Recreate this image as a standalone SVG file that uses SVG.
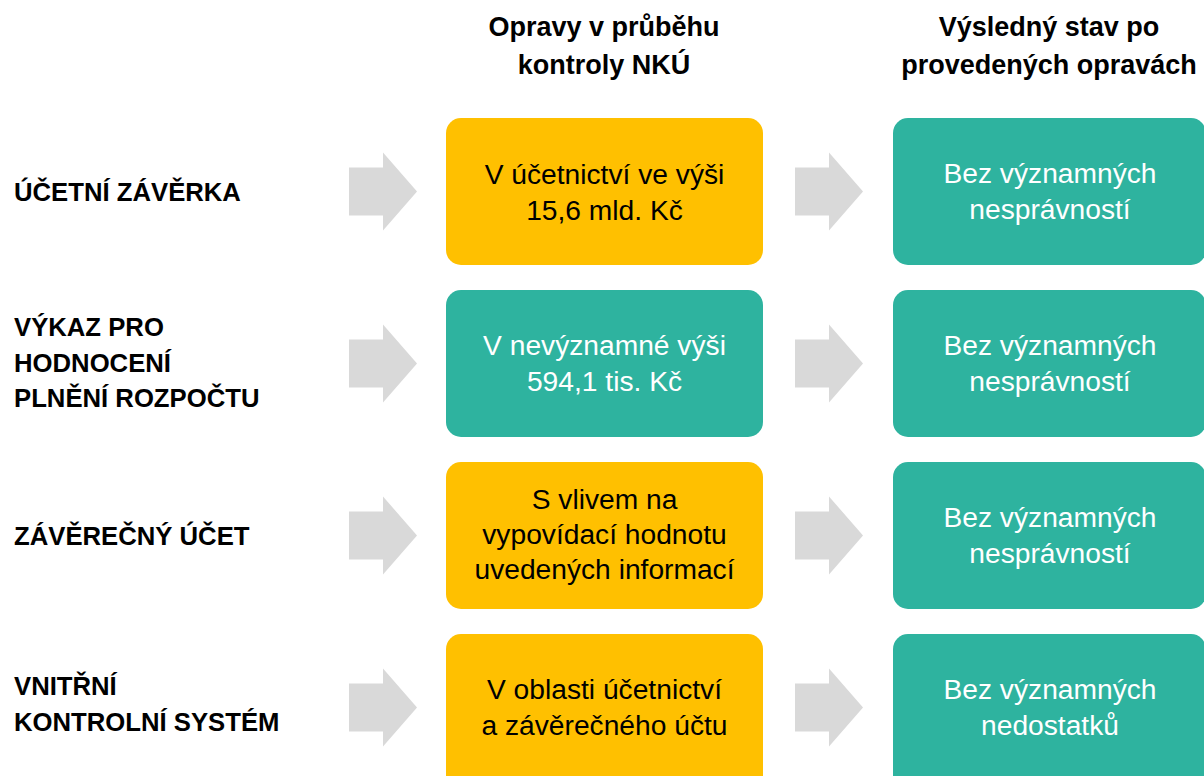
<svg xmlns="http://www.w3.org/2000/svg" width="1204" height="776" viewBox="0 0 1204 776">
<style>
.hd{font-family:"Liberation Sans",Arial,sans-serif;font-weight:bold;font-size:27px;fill:#000;text-anchor:middle}
.lb{font-family:"Liberation Sans",Arial,sans-serif;font-weight:bold;font-size:25.7px;fill:#000}
.bt{font-family:"Liberation Sans",Arial,sans-serif;font-size:28.2px;text-anchor:middle}
.dk{fill:#000}
.wt{fill:#fff}
.y{fill:#FFC000}
.g{fill:#2EB39F}
.ar{fill:#D9D9D9}
</style>
<rect width="1204" height="776" fill="#fff"/>
<g id="headers">
<text class="hd" x="604" y="36">Opravy v průběhu</text>
<text class="hd" x="604" y="74">kontroly NKÚ</text>
<text class="hd" x="1049" y="36">Výsledný stav po</text>
<text class="hd" x="1049" y="74">provedených opravách</text>
</g>
<g id="labels">
<text class="lb" x="14" y="201">ÚČETNÍ ZÁVĚRKA</text>
<text class="lb" x="14" y="336">VÝKAZ PRO</text>
<text class="lb" x="14" y="372">HODNOCENÍ</text>
<text class="lb" x="14" y="407">PLNĚNÍ ROZPOČTU</text>
<text class="lb" x="14" y="545">ZÁVĚREČNÝ ÚČET</text>
<text class="lb" x="14" y="695">VNITŘNÍ</text>
<text class="lb" x="14" y="731">KONTROLNÍ SYSTÉM</text>
</g>
<g id="connectors">
<polygon class="ar" points="349,167.5 383,167.5 383,152.5 417,191.5 383,230.5 383,215.5 349,215.5"/>
<polygon class="ar" points="795,167.5 829,167.5 829,152.5 863,191.5 829,230.5 829,215.5 795,215.5"/>
<polygon class="ar" points="349,339.5 383,339.5 383,324.5 417,363.5 383,402.5 383,387.5 349,387.5"/>
<polygon class="ar" points="795,339.5 829,339.5 829,324.5 863,363.5 829,402.5 829,387.5 795,387.5"/>
<polygon class="ar" points="349,511.5 383,511.5 383,496.5 417,535.5 383,574.5 383,559.5 349,559.5"/>
<polygon class="ar" points="795,511.5 829,511.5 829,496.5 863,535.5 829,574.5 829,559.5 795,559.5"/>
<polygon class="ar" points="349,683.5 383,683.5 383,668.5 417,707.5 383,746.5 383,731.5 349,731.5"/>
<polygon class="ar" points="795,683.5 829,683.5 829,668.5 863,707.5 829,746.5 829,731.5 795,731.5"/>
</g>
<g id="fix1">
<rect class="y" x="446" y="118" width="317" height="147" rx="15"/>
<text class="bt dk" x="604.5" y="184">V účetnictví ve výši</text>
<text class="bt dk" x="604.5" y="220">15,6 mld. Kč</text>
</g>
<g id="res1">
<rect class="g" x="893" y="118" width="313" height="147" rx="15"/>
<text class="bt wt" x="1050" y="183">Bez významných</text>
<text class="bt wt" x="1050" y="219">nesprávností</text>
</g>
<g id="fix2">
<rect class="g" x="446" y="290" width="317" height="147" rx="15"/>
<text class="bt wt" x="604.5" y="355">V nevýznamné výši</text>
<text class="bt wt" x="604.5" y="391">594,1 tis. Kč</text>
</g>
<g id="res2">
<rect class="g" x="893" y="290" width="313" height="147" rx="15"/>
<text class="bt wt" x="1050" y="355">Bez významných</text>
<text class="bt wt" x="1050" y="391">nesprávností</text>
</g>
<g id="fix3">
<rect class="y" x="446" y="462" width="317" height="147" rx="15"/>
<text class="bt dk" x="604.5" y="509">S vlivem na</text>
<text class="bt dk" x="604.5" y="544">vypovídací hodnotu</text>
<text class="bt dk" x="604.5" y="579">uvedených informací</text>
</g>
<g id="res3">
<rect class="g" x="893" y="462" width="313" height="147" rx="15"/>
<text class="bt wt" x="1050" y="527">Bez významných</text>
<text class="bt wt" x="1050" y="563">nesprávností</text>
</g>
<g id="fix4">
<rect class="y" x="446" y="634" width="317" height="160" rx="15"/>
<text class="bt dk" x="604.5" y="699">V oblasti účetnictví</text>
<text class="bt dk" x="604.5" y="735">a závěrečného účtu</text>
</g>
<g id="res4">
<rect class="g" x="893" y="634" width="313" height="160" rx="15"/>
<text class="bt wt" x="1050" y="699">Bez významných</text>
<text class="bt wt" x="1050" y="735">nedostatků</text>
</g>
</svg>
